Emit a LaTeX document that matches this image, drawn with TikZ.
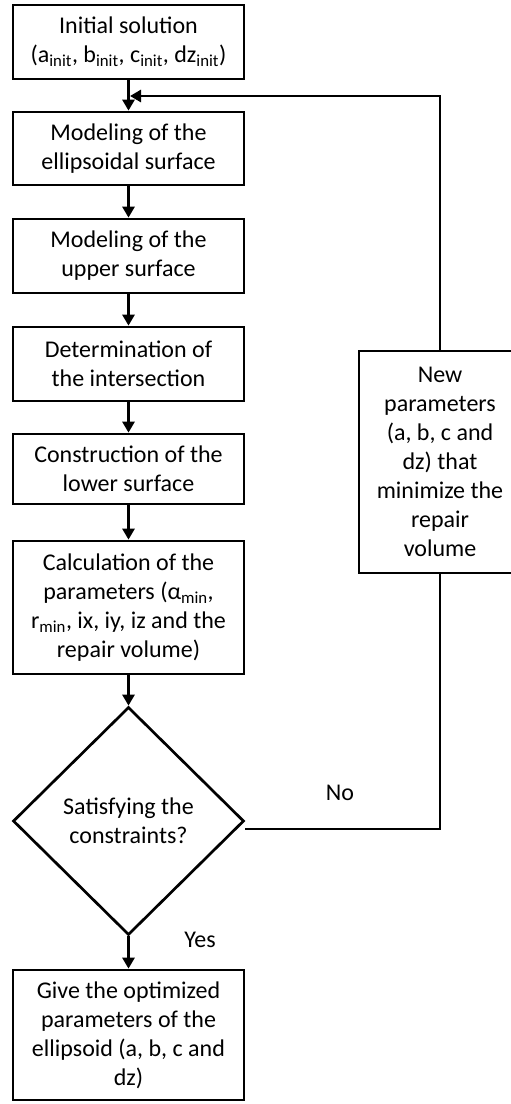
\documentclass[tikz,border=0pt]{standalone}
\usepackage{fontspec}
\setmainfont{Carlito}
\usetikzlibrary{arrows.meta,shapes.geometric,calc}

\begin{document}
\begin{tikzpicture}[x=1pt, y=-1pt, >={Triangle[width=12pt,length=11pt]}, line width=2.7pt,
  procbox/.style={draw, minimum width=231pt, align=center, inner sep=2pt,
    font=\fontsize{24pt}{29pt}\selectfont},
  decbox/.style={draw, diamond, align=center, inner sep=0pt,
    minimum width=231pt, minimum height=228pt, font=\fontsize{24pt}{29pt}\selectfont},
  lbl/.style={font=\fontsize{24pt}{29pt}\selectfont}]
  \useasboundingbox (0,0) rectangle (511,1104);

  % main chain
  \node[procbox, minimum height=74pt] (init) at (128.5,42)
    {Initial solution\\(a\textsubscript{init}, b\textsubscript{init}, c\textsubscript{init}, dz\textsubscript{init})};
  \node[procbox, minimum height=73pt] (ellip) at (128.5,148.5)
    {Modeling of the\\ellipsoidal surface};
  \node[procbox, minimum height=74pt] (upper) at (128.5,256)
    {Modeling of the\\upper surface};
  \node[procbox, minimum height=74pt] (inter) at (128.5,364)
    {Determination of\\the intersection};
  \node[procbox, minimum height=70pt] (lower) at (128.5,469)
    {Construction of the\\lower surface};
  \node[procbox, minimum height=133pt] (calc) at (128.5,607.5)
    {Calculation of the\\parameters (α\textsubscript{min},\\r\textsubscript{min}, ix, iy, iz and the\\repair volume)};
  \node[decbox] (check) at (128.5,821) {Satisfying the\\constraints?};
  \node[procbox, minimum height=130pt] (result) at (128.5,1035)
    {Give the optimized\\parameters of the\\ellipsoid (a, b, c and\\dz)};

  % loop back
  \node[procbox, minimum width=162pt, minimum height=222pt] (newpar) at (440,462)
    {New\\parameters\\(a, b, c and\\dz) that\\minimize the\\repair\\volume};
  \node[lbl] (no) at (340,793) {No};
  \node[lbl] (yes) at (200,940) {Yes};
  \coordinate (join) at (130,96);

  \foreach \a/\b in {init/ellip, ellip/upper, upper/inter, inter/lower, lower/calc, calc/check, check/result}
    \draw[->] (\a) -- (\b);
  \draw ([yshift=-8pt]check.east) -| (newpar.south);
  \draw[->] (newpar.north) |- (join);
\end{tikzpicture}
\end{document}
